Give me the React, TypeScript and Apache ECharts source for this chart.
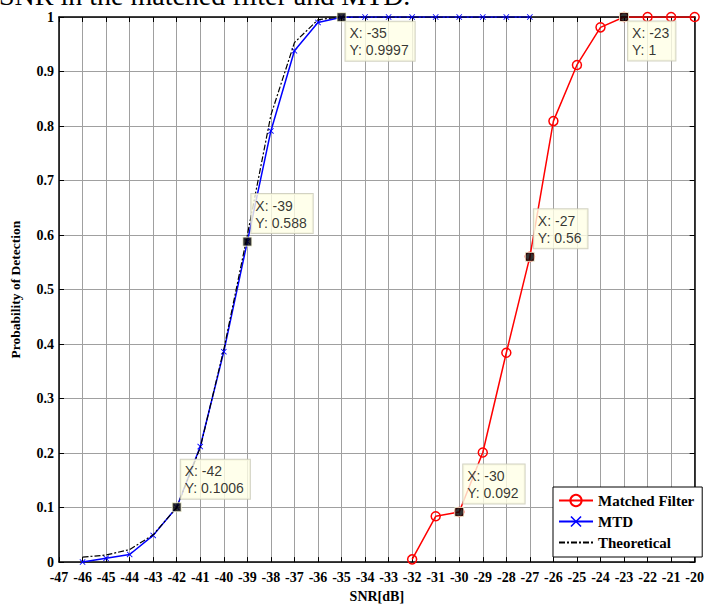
import React, { useEffect, useRef } from "react";
import * as echarts from "echarts";

// SNR grid (dB) and detection probabilities
const mtdSnr = [-46, -45, -44, -43, -42, -41, -40, -39, -38, -37, -36, -35, -34, -33, -32, -31, -30, -29, -28, -27];
const mtdPd = [0, 0.007, 0.014, 0.049, 0.1006, 0.212, 0.386, 0.588, 0.791, 0.938, 0.99, 0.9997, 1, 1, 1, 1, 1, 1, 1, 1];
const theoPd = [0.009, 0.013, 0.023, 0.05, 0.1, 0.21, 0.39, 0.6, 0.82, 0.953, 0.995, 1, 1, 1, 1, 1, 1, 1, 1, 1];
const mfSnr = [-32, -31, -30, -29, -28, -27, -26, -25, -24, -23, -22, -21, -20];
const mfPd = [0.005, 0.084, 0.092, 0.201, 0.384, 0.56, 0.809, 0.912, 0.981, 1, 1, 1, 1];

// Data cursors
const tipX = [-35, -39, -42, -30, -27, -23];
const tipY = ["0.9997", "0.588", "0.1006", "0.092", "0.56", "1"];
const tipBelow = [true, false, false, false, false, true];

const serif = "Liberation Serif";
const sans = "Liberation Sans";
const xMark = "path://M0,1L1,0L5,4L9,0L10,1L6,5L10,9L9,10L5,6L1,10L0,9L4,5Z";

export default function App() {
  const ref = useRef<HTMLDivElement>(null);
  useEffect(() => {
    if (!ref.current) return;
    const chart = echarts.init(ref.current, null, { renderer: "svg" });
    const axisFont = { fontFamily: serif, fontWeight: "bold" as const, fontSize: 14, color: "#000" };
    chart.setOption({
      animation: false,
      backgroundColor: "#fff",
      grid: { left: 57, right: 6, top: 17, bottom: 35 },
      graphic: [
        {
          type: "text",
          left: -1,
          top: -19,
          style: { text: "SNR in the matched filter and MTD.", font: `28px "${serif}"`, fill: "#000" },
        },
      ],
      legend: {
        left: 553,
        top: 487,
        orient: "vertical",
        backgroundColor: "#fff",
        borderColor: "#000",
        borderWidth: 1,
        padding: [6, 8, 7, 5],
        itemGap: 6,
        itemWidth: 34,
        itemHeight: 14,
        textStyle: { fontFamily: serif, fontWeight: "bold", fontSize: 15, color: "#000" },
        data: [
          "Matched Filter",
          "MTD",
          { name: "Theoretical", itemStyle: { opacity: 0 } },
        ],
      },
      xAxis: [
        {
          type: "value",
          min: -47,
          max: -20,
          interval: 1,
          name: "SNR[dB]",
          nameLocation: "middle",
          nameGap: 19,
          nameTextStyle: axisFont,
          axisLine: { show: true, onZero: false, lineStyle: { color: "#000", width: 1.5 } },
          axisTick: { inside: true, length: 5, lineStyle: { color: "#000" } },
          axisLabel: { ...axisFont, margin: 8 },
          splitLine: { show: true, lineStyle: { color: "#a0a0a0", width: 1 } },
        },
        {
          type: "value",
          position: "top",
          min: -47,
          max: -20,
          interval: 1,
          axisLine: { show: true, onZero: false, lineStyle: { color: "#000", width: 1.5 } },
          axisTick: { inside: true, length: 5, lineStyle: { color: "#000" } },
          axisLabel: { show: false },
          splitLine: { show: false },
        },
      ],
      yAxis: [
        {
          type: "value",
          min: 0,
          max: 1,
          interval: 0.1,
          name: "Probability of Detection",
          nameLocation: "middle",
          nameGap: 37,
          nameTextStyle: { ...axisFont, fontSize: 13.5 },
          axisLine: { show: true, onZero: false, lineStyle: { color: "#000", width: 1.5 } },
          axisTick: { inside: true, length: 5, lineStyle: { color: "#000" } },
          axisLabel: { ...axisFont, margin: 5, formatter: (v: number) => String(Math.round(v * 10) / 10) },
          splitLine: { show: true, lineStyle: { color: "#a0a0a0", width: 1 } },
        },
        {
          type: "value",
          position: "right",
          min: 0,
          max: 1,
          interval: 0.1,
          axisLine: { show: true, onZero: false, lineStyle: { color: "#000", width: 1.5 } },
          axisTick: { inside: true, length: 5, lineStyle: { color: "#000" } },
          axisLabel: { show: false },
          splitLine: { show: false },
        },
      ],
      series: [
        {
          name: "Matched Filter",
          type: "line",
          color: "#ff0000",
          data: mfSnr.map((x, i) => [x, mfPd[i]]),
          symbol: "circle",
          symbolSize: 9,
          showAllSymbol: true,
          lineStyle: { color: "#ff0000", width: 1.5 },
          itemStyle: { color: "rgba(255,255,255,0)", borderColor: "#ff0000", borderWidth: 1.5 },
          z: 3,
        },
        {
          name: "MTD",
          type: "line",
          color: "#0000ff",
          data: mtdSnr.map((x, i) => [x, mtdPd[i]]),
          symbol: xMark,
          symbolSize: 6,
          showAllSymbol: true,
          lineStyle: { color: "#0000ff", width: 1.5 },
          itemStyle: { color: "#0000ff" },
          z: 3,
        },
        {
          name: "Theoretical",
          type: "line",
          color: "#000",
          data: mtdSnr.map((x, i) => [x, theoPd[i]]),
          symbol: "none",
          lineStyle: { color: "#000", width: 1.2, type: [6, 2, 2, 2] },
          z: 4,
        },
        {
          name: "cursor",
          type: "scatter",
          data: tipX.map((x, i) => {
            const below = tipBelow[i];
            return {
              value: [x, Number(tipY[i])],
              label: {
                show: true,
                position: below ? [9, 9.5] : [9, -3.5],
                align: "left",
                verticalAlign: below ? "top" : "bottom",
                formatter: `X: ${x}\nY: ${tipY[i]}`,
                fontFamily: sans,
                fontSize: 14,
                lineHeight: 17,
                color: "#000",
                backgroundColor: "#ffffe6",
                borderColor: "#c8c8b4",
                borderWidth: 1,
                padding: [3, 6, 2, 4],
              },
            };
          }),
          symbol: "rect",
          symbolSize: 9,
          itemStyle: { color: "#000", borderColor: "#ffffe0", borderWidth: 1 },
          z: 10,
          silent: true,
        },
      ],
    });
    return () => chart.dispose();
  }, []);
  return <div ref={ref} style={{ width: 707, height: 608, position: "absolute", left: 0, top: 0 }} />;
}
